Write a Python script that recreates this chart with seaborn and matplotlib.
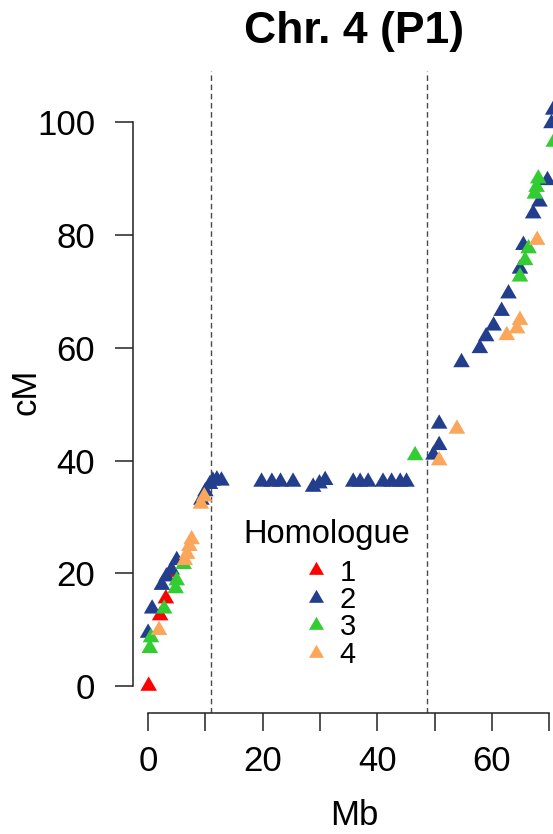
import numpy as np
import pandas as pd
import matplotlib
matplotlib.use("Agg")
import matplotlib.pyplot as plt
from matplotlib.markers import MarkerStyle
from matplotlib.path import Path
from matplotlib.lines import Line2D
import seaborn as sns

# Marker positions per homologue: physical position (Mb) and genetic position (cM)
h1_mb = [0.1, 2.1, 3.1, 3.9]
h1_cm = [0.0, 12.5, 15.5, 20.2]

h2_mb = [0.0, 0.7, 2.4, 3.2, 4.1, 5.0, 9.3, 10.0, 10.8, 11.3, 12.0, 12.8,
         19.8, 21.6, 23.1, 25.3, 28.8, 29.9, 30.9,
         35.8, 37.0, 38.4, 41.0, 42.5, 44.0, 45.1,
         49.8, 50.8, 50.8, 54.7, 57.9, 59.0, 60.3, 61.7, 62.9,
         64.9, 65.5, 67.2, 68.3, 69.7, 70.4, 70.7]
h2_cm = [9.4, 13.7, 17.9, 19.4, 20.6, 22.3, 33.0, 34.5, 35.8, 36.4, 36.6, 36.4,
         36.2, 36.2, 36.2, 36.2, 35.3, 35.9, 36.5,
         36.2, 36.2, 36.2, 36.2, 36.2, 36.2, 36.2,
         41.0, 42.7, 46.5, 57.4, 59.9, 62.0, 63.9, 66.5, 69.6,
         74.0, 78.2, 83.8, 85.9, 89.7, 99.8, 102.2]

h3_mb = [0.3, 0.5, 2.8, 4.8, 5.0, 6.2, 46.6, 64.9, 65.8, 66.4, 67.5, 67.8, 68.1, 70.8]
h3_cm = [6.7, 8.6, 13.7, 17.3, 18.7, 21.6, 40.9, 72.6, 75.5, 77.6, 87.3, 88.5, 90.0, 96.5]

h4_mb = [1.9, 6.4, 6.8, 7.2, 7.6, 9.2, 9.8, 50.8, 53.9, 62.6, 64.4, 64.9, 67.9]
h4_cm = [9.9, 22.3, 23.4, 24.8, 26.0, 32.3, 33.6, 40.0, 45.6, 62.2, 63.4, 64.9, 79.1]

homologues = ["1", "2", "3", "4"]
colors = ["#FF0000", "#223E8C", "#33CC33", "#FBA65A"]

# centromere boundaries (Mb)
centromere = [10.96, 48.6]

x_ticks = [0, 10, 20, 30, 40, 50, 60, 70]
x_labels = ["0", "", "20", "", "40", "", "60", ""]
y_ticks = [0, 20, 40, 60, 80, 100]

frames = []
for name, mb, cm in zip(homologues, [h1_mb, h2_mb, h3_mb, h4_mb],
                        [h1_cm, h2_cm, h3_cm, h4_cm]):
    frames.append(pd.DataFrame({"Mb": mb, "cM": cm, "Homologue": name}))
df = pd.concat(frames, ignore_index=True)

sns.set_theme(style="white")
plt.rcParams["font.family"] = ["Liberation Sans", "DejaVu Sans"]
plt.rcParams["text.color"] = "black"
plt.rcParams["axes.labelcolor"] = "black"

# equilateral filled triangle, centred on its centroid
tri = MarkerStyle(Path([(-1, -0.5774), (1, -0.5774), (0, 1.1547), (-1, -0.5774)],
                       [Path.MOVETO, Path.LINETO, Path.LINETO, Path.CLOSEPOLY]))

W, H = 553, 834
fig = plt.figure(figsize=(W / 100, H / 100), dpi=100)
ax = fig.add_axes([132.7 / W, (H - 712.5) / H, (576 - 132.7) / W, (712.5 - 71) / H])

for c in centromere:
    ax.axvline(c, color="#4a4a4a", lw=1.0, dashes=(4.0, 2.6), zorder=1)

sns.scatterplot(data=df, x="Mb", y="cM", hue="Homologue",
                palette=dict(zip(homologues, colors)), hue_order=homologues,
                marker=tri, s=190, linewidth=0, edgecolor="none",
                legend=False, ax=ax, zorder=3)

ax.set_xlim(-2.69, 74.68)
ax.set_ylim(-4.70, 109.10)

for side in ["top", "right"]:
    ax.spines[side].set_visible(False)
for side in ["left", "bottom"]:
    ax.spines[side].set_color("#222222")
    ax.spines[side].set_linewidth(1.1)
ax.spines["bottom"].set_bounds(0, 70)
ax.spines["left"].set_bounds(0, 100)

ax.set_xticks(x_ticks)
ax.set_xticklabels(x_labels)
ax.set_yticks(y_ticks)
ax.set_yticklabels([str(v) for v in y_ticks])
ax.tick_params(axis="both", which="major", direction="out", length=13.2,
               width=1.1, color="#222222", labelsize=25, labelcolor="black")
ax.tick_params(axis="y", pad=13.7)
ax.tick_params(axis="x", pad=10.5)
ax.tick_params(left=True, bottom=True)

ax.set_xlabel("Mb", fontsize=25, va="baseline", color="black")
ax.xaxis.set_label_coords(0.5, (712.5 - 825) / (712.5 - 71))
ax.set_ylabel("cM", fontsize=25, va="center", color="black")
ax.yaxis.set_label_coords((26 - 132.7) / (576 - 132.7), 0.5)

ax.set_title("Chr. 4 (P1)", fontsize=32, fontweight="bold", pad=19.8, color="black")

# legend: title text above a column of triangle keys
fig.text(327 / W, (H - 534) / H, "Homologue", fontsize=23.5,
         ha="center", va="center", color="black")
handles = [Line2D([], [], marker=tri, linestyle="none", color=c,
                  markersize=12.5, markeredgewidth=0) for c in colors]
leg = ax.legend(handles, homologues, loc="upper left",
                bbox_to_anchor=(304 / W, (H - 558.6) / H), bbox_transform=fig.transFigure,
                frameon=False, fontsize=21,
                handlelength=0.8, handletextpad=0.42, labelspacing=-0.02,
                borderpad=0, borderaxespad=0)
for t in leg.get_texts():
    t.set_color("black")

fig.savefig("out.png", dpi=100)
